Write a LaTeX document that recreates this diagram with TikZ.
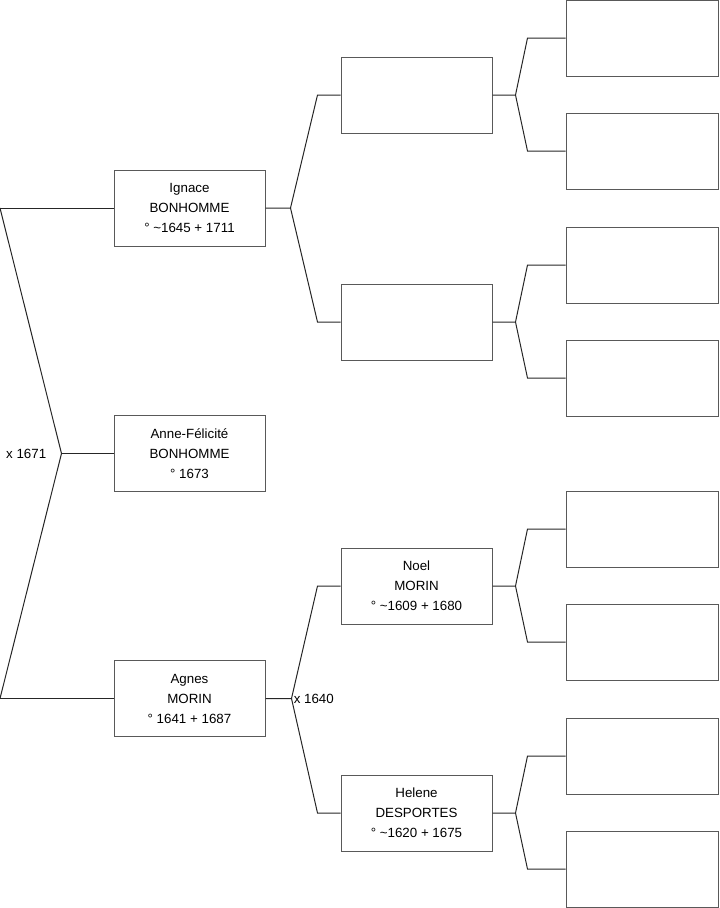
\documentclass[tikz,border=0pt]{standalone}
\usepackage{fontspec}
\setmainfont{Liberation Sans}
\usetikzlibrary{positioning, calc}

\begin{document}
\begin{tikzpicture}[
		x=0.75pt, y=-0.75pt,
		person/.style={rectangle, draw=black!65, line width=0.75pt, fill=white,
			minimum width=113.25pt, minimum height=57pt, inner sep=0pt,
			align=center, font=\fontsize{10}{15}\selectfont},
		blank/.style={person, minimum width=114pt},
		link/.style={line width=0.75pt, black!85},
		mariage/.style={inner sep=0pt, font=\fontsize{10}{12}\selectfont}
	]
		\useasboundingbox (0,0) rectangle (719,908);
		
		\node[person] (ignace) at (189.5,208) {Ignace\\BONHOMME\\° \textasciitilde1645 + 1711};
		\node[person] (anne) at (189.5,453.5) {Anne-Félicité\\BONHOMME\\° 1673};
		\node[person] (agnes) at (189.5,698.5) {Agnes\\MORIN\\° 1641 + 1687};
		
		\node[person] (ignF) at (416.5,95) {};
		\node[person] (ignM) at (416.5,322) {};
		\node[person] (noel) at (416.5,586) {Noel\\MORIN\\° \textasciitilde1609 + 1680};
		\node[person] (helene) at (416.5,813) {Helene\\DESPORTES\\° \textasciitilde1620 + 1675};
		
		\node[blank] (ignFF) at (642,38) {};
		\node[blank] (ignFM) at (642,151) {};
		\node[blank] (ignMF) at (642,265) {};
		\node[blank] (ignMM) at (642,378) {};
		\node[blank] (noelF) at (642,529) {};
		\node[blank] (noelM) at (642,642) {};
		\node[blank] (helF) at (642,756) {};
		\node[blank] (helM) at (642,869) {};
		
		\coordinate (haut) at (0,208);
		\coordinate (bas) at (0,698.5);
		\coordinate (jAnne) at ([xshift=-39pt]anne.west);
		\node[mariage, anchor=east] (m1671) at ([xshift=-11.25pt]jAnne) {x 1671};
		
		\draw[link] (haut) -- (ignace.west);
		\draw[link] (bas) -- (agnes.west);
		\draw[link] (haut) -- (jAnne) -- (bas);
		\draw[link] (jAnne) -- (anne.west);
		
		\coordinate (jIgn) at ([xshift=18.75pt]ignace.east);
		\draw[link] (ignace.east) -- (jIgn) -- ([xshift=-17.25pt]ignF.west) -- (ignF.west);
		\draw[link] (jIgn) -- ([xshift=-17.25pt]ignM.west) -- (ignM.west);
		
		\coordinate (jAgn) at ([xshift=19.5pt]agnes.east);
		\node[mariage, anchor=west] (m1640) at ([xshift=1.5pt]jAgn) {x 1640};
		\draw[link] (agnes.east) -- (jAgn) -- ([xshift=-17.25pt]noel.west) -- (noel.west);
		\draw[link] (jAgn) -- ([xshift=-17.25pt]helene.west) -- (helene.west);
		
		\coordinate (jIF) at ([xshift=17.25pt]ignF.east);
		\draw[link] (ignF.east) -- (jIF) -- ([xshift=-28.5pt]ignFF.west) -- (ignFF.west);
		\draw[link] (jIF) -- ([xshift=-28.5pt]ignFM.west) -- (ignFM.west);
		
		\coordinate (jIM) at ([xshift=17.25pt]ignM.east);
		\draw[link] (ignM.east) -- (jIM) -- ([xshift=-28.5pt]ignMF.west) -- (ignMF.west);
		\draw[link] (jIM) -- ([xshift=-28.5pt]ignMM.west) -- (ignMM.west);
		
		\coordinate (jNoel) at ([xshift=17.25pt]noel.east);
		\draw[link] (noel.east) -- (jNoel) -- ([xshift=-28.5pt]noelF.west) -- (noelF.west);
		\draw[link] (jNoel) -- ([xshift=-28.5pt]noelM.west) -- (noelM.west);
		
		\coordinate (jHel) at ([xshift=17.25pt]helene.east);
		\draw[link] (helene.east) -- (jHel) -- ([xshift=-28.5pt]helF.west) -- (helF.west);
		\draw[link] (jHel) -- ([xshift=-28.5pt]helM.west) -- (helM.west);
	\end{tikzpicture}
\end{document}
